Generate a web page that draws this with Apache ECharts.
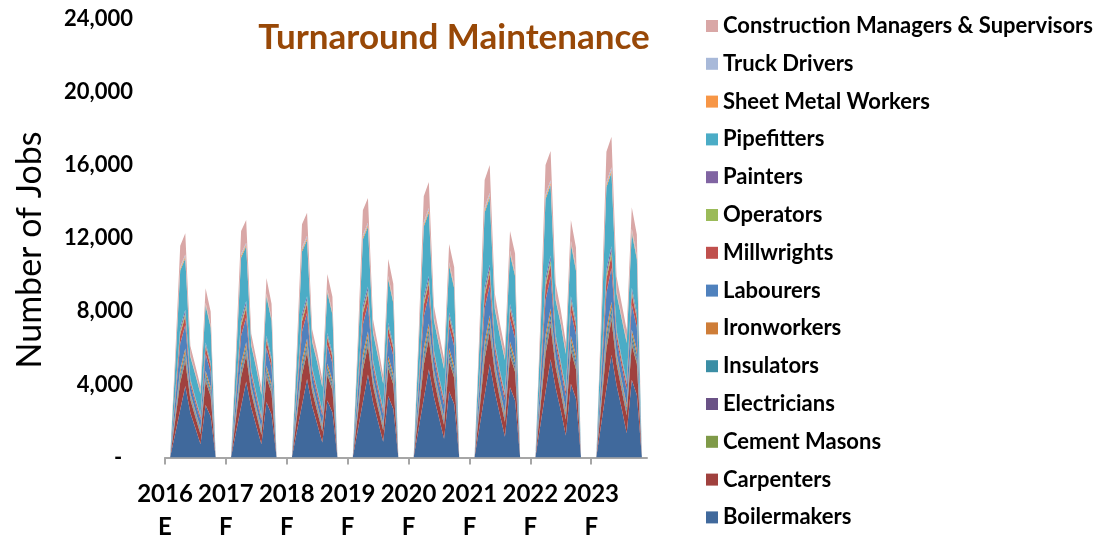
<!DOCTYPE html>
<html>
<head>
<meta charset="utf-8">
<title>Turnaround Maintenance</title>
<script src="https://cdn.jsdelivr.net/npm/echarts@6/dist/echarts.min.js"></script>
<style>
  html, body { margin: 0; padding: 0; background: #ffffff; }
  #chart { width: 1111px; height: 539px; }
</style>
</head>
<body>
<div id="chart"></div>
<script>
// Monthly jobs by trade, Jan 2016 - Dec 2023 (one row per year, 12 months each)
const years = ['2016', '2017', '2018', '2019', '2020', '2021', '2022', '2023'];
const yearStatus = ['E', 'F', 'F', 'F', 'F', 'F', 'F', 'F'];
const months = ['Jan', 'Feb', 'Mar', 'Apr', 'May', 'Jun', 'Jul', 'Aug', 'Sep', 'Oct', 'Nov', 'Dec'];
const yTicks = [0, 4000, 8000, 12000, 16000, 20000, 24000];

const boilermakers = [
  0, 0, 1290, 2610, 3920, 2440, 1600, 730, 2870, 2240, 0, 0,
  0, 0, 1390, 2790, 4160, 2720, 1730, 720, 3040, 2350, 0, 0,
  0, 0, 1430, 2870, 4290, 2800, 1840, 820, 3120, 2460, 0, 0,
  0, 0, 1500, 3040, 4540, 3020, 1950, 860, 3360, 2660, 0, 0,
  0, 0, 1600, 3220, 4830, 3320, 2180, 1030, 3630, 2910, 0, 0,
  0, 0, 1690, 3420, 5120, 3600, 2350, 1130, 3840, 3120, 0, 0,
  0, 0, 1790, 3600, 5380, 3800, 2590, 1200, 4030, 3220, 0, 0,
  0, 0, 1880, 3770, 5620, 3960, 2700, 1330, 4250, 3420, 0, 0
];
const carpenters = [
  0, 0, 720, 1510, 1350, 730, 600, 540, 1300, 1120, 0, 0,
  0, 0, 770, 1610, 1430, 820, 650, 530, 1370, 1180, 0, 0,
  0, 0, 790, 1660, 1470, 840, 690, 600, 1410, 1230, 0, 0,
  0, 0, 830, 1760, 1560, 910, 730, 630, 1520, 1330, 0, 0,
  0, 0, 880, 1860, 1660, 1000, 820, 760, 1640, 1460, 0, 0,
  0, 0, 940, 1980, 1760, 1080, 880, 830, 1740, 1560, 0, 0,
  0, 0, 990, 2080, 1850, 1140, 970, 880, 1820, 1610, 0, 0,
  0, 0, 1040, 2180, 1930, 1190, 1010, 980, 1920, 1710, 0, 0
];
const cementMasons = [
  0, 0, 60, 120, 100, 50, 50, 50, 80, 80, 0, 0,
  0, 0, 60, 120, 100, 50, 50, 50, 90, 80, 0, 0,
  0, 0, 60, 130, 110, 60, 60, 50, 90, 90, 0, 0,
  0, 0, 60, 140, 110, 60, 60, 50, 100, 100, 0, 0,
  0, 0, 70, 140, 120, 70, 70, 60, 110, 100, 0, 0,
  0, 0, 70, 150, 130, 70, 70, 70, 110, 110, 0, 0,
  0, 0, 80, 160, 130, 80, 80, 80, 120, 120, 0, 0,
  0, 0, 80, 170, 140, 80, 80, 80, 120, 120, 0, 0
];
const electricians = [
  0, 0, 70, 150, 150, 70, 80, 80, 120, 110, 0, 0,
  0, 0, 80, 160, 160, 80, 80, 80, 130, 120, 0, 0,
  0, 0, 80, 170, 160, 80, 90, 90, 130, 120, 0, 0,
  0, 0, 80, 180, 170, 90, 90, 90, 140, 130, 0, 0,
  0, 0, 90, 190, 180, 100, 100, 110, 150, 150, 0, 0,
  0, 0, 90, 200, 190, 110, 110, 120, 160, 160, 0, 0,
  0, 0, 100, 210, 200, 110, 120, 130, 170, 160, 0, 0,
  0, 0, 100, 220, 210, 120, 130, 140, 180, 170, 0, 0
];
const insulators = [
  0, 0, 110, 230, 220, 110, 100, 100, 190, 160, 0, 0,
  0, 0, 120, 250, 230, 120, 110, 100, 200, 170, 0, 0,
  0, 0, 120, 260, 240, 130, 120, 110, 200, 180, 0, 0,
  0, 0, 130, 270, 260, 140, 120, 110, 220, 190, 0, 0,
  0, 0, 140, 290, 270, 150, 140, 140, 230, 210, 0, 0,
  0, 0, 140, 300, 290, 160, 150, 150, 250, 220, 0, 0,
  0, 0, 150, 320, 300, 170, 160, 160, 260, 230, 0, 0,
  0, 0, 160, 340, 320, 180, 170, 180, 270, 240, 0, 0
];
const ironworkers = [
  0, 0, 110, 230, 220, 110, 100, 90, 190, 160, 0, 0,
  0, 0, 120, 250, 230, 120, 110, 90, 200, 170, 0, 0,
  0, 0, 120, 260, 240, 130, 120, 100, 200, 180, 0, 0,
  0, 0, 130, 270, 260, 140, 120, 100, 220, 190, 0, 0,
  0, 0, 140, 290, 270, 150, 140, 120, 230, 210, 0, 0,
  0, 0, 140, 300, 290, 160, 150, 140, 250, 220, 0, 0,
  0, 0, 150, 320, 300, 170, 160, 150, 260, 230, 0, 0,
  0, 0, 160, 330, 310, 180, 170, 160, 270, 240, 0, 0
];
const labourers = [
  0, 0, 660, 1390, 1290, 490, 450, 460, 930, 800, 0, 0,
  0, 0, 710, 1490, 1370, 540, 490, 460, 980, 840, 0, 0,
  0, 0, 730, 1530, 1410, 560, 520, 520, 1010, 880, 0, 0,
  0, 0, 770, 1620, 1490, 600, 550, 540, 1090, 950, 0, 0,
  0, 0, 820, 1720, 1590, 660, 610, 650, 1170, 1040, 0, 0,
  0, 0, 860, 1820, 1680, 720, 660, 710, 1240, 1120, 0, 0,
  0, 0, 910, 1920, 1760, 760, 730, 760, 1300, 1150, 0, 0,
  0, 0, 960, 2010, 1840, 790, 760, 840, 1370, 1220, 0, 0
];
const millwrights = [
  0, 0, 250, 520, 490, 180, 180, 150, 390, 340, 0, 0,
  0, 0, 270, 560, 520, 200, 190, 150, 410, 350, 0, 0,
  0, 0, 270, 570, 540, 210, 200, 170, 420, 370, 0, 0,
  0, 0, 290, 610, 570, 230, 210, 180, 460, 400, 0, 0,
  0, 0, 310, 640, 600, 250, 240, 220, 490, 440, 0, 0,
  0, 0, 320, 680, 640, 270, 260, 240, 520, 470, 0, 0,
  0, 0, 340, 720, 670, 290, 280, 250, 550, 480, 0, 0,
  0, 0, 360, 750, 700, 300, 300, 280, 580, 510, 0, 0
];
const operators = [
  0, 0, 70, 150, 150, 50, 50, 50, 90, 80, 0, 0,
  0, 0, 80, 160, 160, 50, 50, 50, 100, 80, 0, 0,
  0, 0, 80, 170, 160, 60, 60, 50, 100, 90, 0, 0,
  0, 0, 80, 180, 170, 60, 60, 50, 110, 100, 0, 0,
  0, 0, 90, 190, 180, 70, 70, 60, 120, 100, 0, 0,
  0, 0, 90, 200, 190, 70, 70, 70, 120, 110, 0, 0,
  0, 0, 100, 210, 200, 80, 80, 80, 130, 120, 0, 0,
  0, 0, 100, 220, 210, 80, 80, 80, 140, 120, 0, 0
];
const painters = [
  0, 0, 90, 200, 200, 60, 60, 60, 130, 110, 0, 0,
  0, 0, 100, 210, 210, 70, 60, 60, 140, 120, 0, 0,
  0, 0, 100, 220, 210, 70, 70, 60, 140, 120, 0, 0,
  0, 0, 110, 230, 230, 80, 70, 70, 150, 130, 0, 0,
  0, 0, 120, 240, 240, 80, 80, 80, 160, 150, 0, 0,
  0, 0, 120, 260, 260, 90, 90, 90, 170, 160, 0, 0,
  0, 0, 130, 270, 270, 100, 100, 90, 180, 160, 0, 0,
  0, 0, 140, 280, 280, 100, 100, 100, 190, 170, 0, 0
];
const pipefitters = [
  0, 0, 1430, 3130, 2820, 1220, 1250, 1160, 2040, 1920, 0, 0,
  0, 0, 1530, 3350, 2990, 1360, 1350, 1140, 2160, 2020, 0, 0,
  0, 0, 1590, 3440, 3080, 1400, 1440, 1290, 2210, 2110, 0, 0,
  0, 0, 1660, 3650, 3270, 1510, 1530, 1350, 2390, 2280, 0, 0,
  0, 0, 1770, 3860, 3470, 1660, 1700, 1620, 2570, 2500, 0, 0,
  0, 0, 1870, 4100, 3680, 1800, 1840, 1790, 2730, 2680, 0, 0,
  0, 0, 1980, 4320, 3860, 1900, 2030, 1890, 2860, 2760, 0, 0,
  0, 0, 2080, 4520, 4040, 1980, 2110, 2100, 3010, 2930, 0, 0
];
const sheetMetalWorkers = [
  0, 0, 40, 90, 100, 50, 40, 40, 70, 60, 0, 0,
  0, 0, 50, 100, 100, 50, 40, 40, 80, 70, 0, 0,
  0, 0, 50, 100, 110, 60, 50, 40, 80, 70, 0, 0,
  0, 0, 50, 110, 110, 60, 50, 50, 90, 80, 0, 0,
  0, 0, 50, 110, 120, 70, 50, 50, 90, 80, 0, 0,
  0, 0, 60, 120, 130, 70, 60, 60, 100, 90, 0, 0,
  0, 0, 60, 130, 130, 80, 60, 60, 100, 90, 0, 0,
  0, 0, 60, 130, 140, 80, 70, 70, 110, 100, 0, 0
];
const truckDrivers = [
  0, 0, 40, 90, 100, 50, 40, 40, 70, 60, 0, 0,
  0, 0, 50, 100, 100, 50, 40, 40, 80, 70, 0, 0,
  0, 0, 50, 100, 110, 60, 50, 40, 80, 70, 0, 0,
  0, 0, 50, 110, 110, 60, 50, 40, 90, 80, 0, 0,
  0, 0, 50, 110, 120, 70, 50, 50, 90, 80, 0, 0,
  0, 0, 60, 120, 130, 70, 60, 60, 100, 90, 0, 0,
  0, 0, 60, 130, 130, 80, 60, 60, 100, 90, 0, 0,
  0, 0, 60, 130, 140, 80, 70, 70, 110, 100, 0, 0
];
const constructionManagers = [
  0, 0, 560, 1170, 1160, 490, 410, 320, 800, 750, 0, 0,
  0, 0, 600, 1250, 1240, 540, 440, 320, 840, 790, 0, 0,
  0, 0, 620, 1290, 1270, 560, 470, 360, 860, 830, 0, 0,
  0, 0, 650, 1360, 1350, 600, 500, 370, 930, 890, 0, 0,
  0, 0, 690, 1440, 1430, 660, 560, 450, 1010, 980, 0, 0,
  0, 0, 730, 1540, 1520, 720, 600, 490, 1070, 1050, 0, 0,
  0, 0, 770, 1620, 1600, 760, 660, 520, 1120, 1080, 0, 0,
  0, 0, 810, 1690, 1670, 790, 690, 580, 1180, 1150, 0, 0
];

// Stacking order, bottom to top
const trades = [
  { name: 'Boilermakers', data: boilermakers, color: '#40699C' },
  { name: 'Carpenters', data: carpenters, color: '#A0413E' },
  { name: 'Cement Masons', data: cementMasons, color: '#7F9A48' },
  { name: 'Electricians', data: electricians, color: '#6A5286' },
  { name: 'Insulators', data: insulators, color: '#3B8EA5' },
  { name: 'Ironworkers', data: ironworkers, color: '#CE7D38' },
  { name: 'Labourers', data: labourers, color: '#4F81BD' },
  { name: 'Millwrights', data: millwrights, color: '#C0504D' },
  { name: 'Operators', data: operators, color: '#9BBB59' },
  { name: 'Painters', data: painters, color: '#8064A2' },
  { name: 'Pipefitters', data: pipefitters, color: '#4BACC6' },
  { name: 'Sheet Metal Workers', data: sheetMetalWorkers, color: '#F79646' },
  { name: 'Truck Drivers', data: truckDrivers, color: '#A8B9D9' },
  { name: 'Construction Managers & Supervisors', data: constructionManagers, color: '#D9A7A6' }
];

const categories = [];
years.forEach(y => months.forEach(m => categories.push(m + ' ' + y)));

const FONT = 'Lato, "Open Sans", sans-serif';

const chart = echarts.init(document.getElementById('chart'), null, { renderer: 'canvas' });

chart.setOption({
  backgroundColor: '#ffffff',
  animation: false,
  title: {
    text: 'Turnaround Maintenance',
    left: 449,
    top: 15,
    textAlign: 'center',
    textStyle: { fontFamily: FONT, fontSize: 35, fontWeight: 'bold', color: '#984807' }
  },
  legend: {
    orient: 'vertical',
    left: 706,
    top: 15,
    height: 524,
    padding: 0,
    icon: 'rect',
    itemWidth: 12,
    itemHeight: 12,
    itemGap: 15.8,
    data: trades.map(t => t.name).reverse(),
    textStyle: { fontFamily: FONT, fontSize: 22, fontWeight: 'bold', color: '#000000', lineHeight: 22 }
  },
  graphic: [{
    type: 'text',
    x: 30,
    y: 250,
    rotation: Math.PI / 2,
    style: {
      text: 'Number of Jobs',
      fill: '#000000',
      font: 'normal 34px ' + FONT,
      align: 'center',
      verticalAlign: 'middle'
    }
  }],
  grid: { left: 165, right: 464, top: 19, bottom: 76, containLabel: false },
  xAxis: {
    type: 'category',
    data: categories,
    boundaryGap: false,
    axisLine: { show: true, lineStyle: { color: '#A6A6A6', width: 2 } },
    axisTick: {
      show: true,
      length: 7,
      interval: function (index) { return index % 12 === 0; },
      lineStyle: { color: '#A6A6A6', width: 2 }
    },
    axisLabel: {
      interval: function (index) { return index % 12 === 0; },
      margin: 20,
      formatter: function (value, index) {
        if (index % 12 !== 0) return '';
        const yi = index / 12;
        return '{yr|' + years[yi] + '}\n{st|' + yearStatus[yi] + '}';
      },
      rich: {
        yr: { fontFamily: FONT, fontSize: 24, fontWeight: 'bold', color: '#000000', lineHeight: 33 },
        st: { fontFamily: FONT, fontSize: 24, fontWeight: 'bold', color: '#000000', lineHeight: 33 }
      }
    }
  },
  yAxis: {
    type: 'value',
    min: yTicks[0],
    max: yTicks[yTicks.length - 1],
    interval: yTicks[1] - yTicks[0],
    axisLine: { show: false },
    axisTick: { show: false },
    splitLine: { show: false },
    axisLabel: {
      margin: 32,
      fontFamily: FONT,
      fontSize: 22,
      fontWeight: 'bold',
      color: '#000000',
      formatter: function (v) {
        return v === 0 ? '-  ' : v.toLocaleString('en-US');
      }
    }
  },
  series: trades.map(t => ({
    name: t.name,
    type: 'line',
    stack: 'jobs',
    data: t.data,
    symbol: 'none',
    smooth: false,
    itemStyle: { color: t.color },
    lineStyle: { width: 0, color: t.color },
    areaStyle: { color: t.color, opacity: 1 }
  }))
});
</script>
</body>
</html>
